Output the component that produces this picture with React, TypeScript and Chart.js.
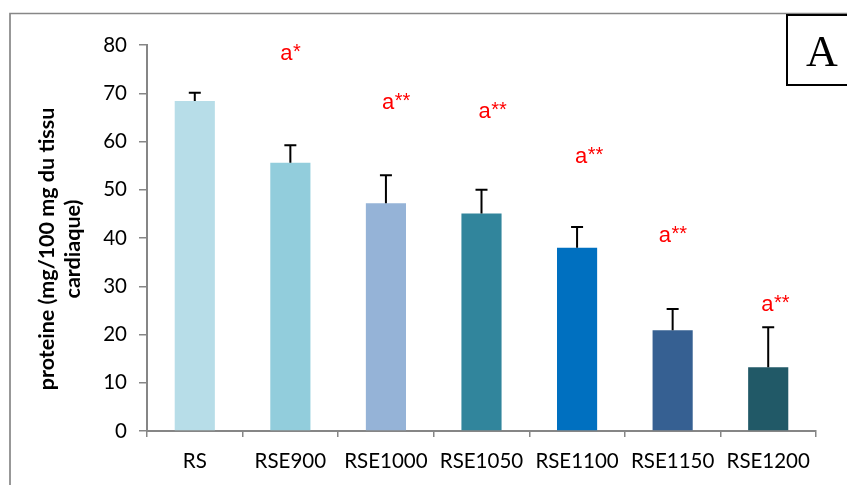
import React, { useEffect, useRef } from "react";
import { Chart, registerables } from "chart.js";

Chart.register(...registerables);

const categories = ["RS", "RSE900", "RSE1000", "RSE1050", "RSE1100", "RSE1150", "RSE1200"];
const proteinMeans = [68.4, 55.6, 47.2, 45.1, 38.0, 20.9, 13.2];
const proteinErrors = [1.7, 3.6, 5.8, 4.9, 4.3, 4.4, 8.3];
const significanceLetters = ["", "a", "a", "a", "a", "a", "a"];
const significanceStars = ["", "*", "**", "**", "**", "**", "**"];
const significanceValues = [null, 78.05, 68.0, 66.15, 56.7, 40.4, 26.1];
const barColors = ["#b7dde8", "#92cddc", "#95b3d7", "#31859c", "#0070c0", "#366092", "#215967"];
const yTitleLines = ["proteine (mg/100 mg du tissu", "cardiaque)"];
const panelLetter = "A";

// horizontal start of each significance label relative to its category centre (px)
const labelShift = [0, -10, -4, -3, -2, -14, -7];
const FONT = "Lato, 'Open Sans', 'DejaVu Sans', sans-serif";

const decorPlugin = {
  id: "decor",
  beforeDraw(chart: any) {
    const ctx = chart.ctx;
    ctx.save();
    ctx.fillStyle = "#ffffff";
    ctx.fillRect(0, 0, chart.width, chart.height);
    ctx.strokeStyle = "#878787";
    ctx.lineWidth = 1.7;
    ctx.beginPath();
    ctx.moveTo(10, 600);
    ctx.lineTo(10, 13.5);
    ctx.lineTo(900, 13.5);
    ctx.stroke();
    ctx.restore();
  },
  afterDraw(chart: any) {
    const ctx = chart.ctx;
    const x = chart.scales.x;
    const y = chart.scales.y;
    ctx.save();
    // error bars
    ctx.strokeStyle = "#000000";
    ctx.lineWidth = 2;
    proteinMeans.forEach((v, i) => {
      const cx = x.getPixelForValue(i);
      const y0 = y.getPixelForValue(v);
      const y1 = y.getPixelForValue(v + proteinErrors[i]);
      ctx.beginPath();
      ctx.moveTo(cx, y0);
      ctx.lineTo(cx, y1);
      ctx.moveTo(cx - 6, y1);
      ctx.lineTo(cx + 6, y1);
      ctx.stroke();
    });
    // significance labels
    ctx.fillStyle = "#ff0000";
    ctx.textAlign = "left";
    ctx.textBaseline = "alphabetic";
    significanceLetters.forEach((t, i) => {
      const sv = significanceValues[i];
      if (!t || sv == null) return;
      const sx = x.getPixelForValue(i) + labelShift[i];
      const base = y.getPixelForValue(sv) + 6;
      ctx.font = "22px 'Liberation Sans', Arial, sans-serif";
      ctx.fillText(t, sx, base);
      const w = ctx.measureText(t).width;
      ctx.font = "20px 'Liberation Sans', Arial, sans-serif";
      ctx.fillText(significanceStars[i], sx + w + 0.5, base - 2);
    });
    // y title
    ctx.fillStyle = "#000000";
    ctx.font = `bold 21.5px ${FONT}`;
    ctx.textAlign = "center";
    ctx.textBaseline = "middle";
    ctx.translate(0, 249);
    ctx.rotate(-Math.PI / 2);
    ctx.fillText(yTitleLines[0], 0, 47);
    ctx.fillText(yTitleLines[1], 0, 73);
    ctx.restore();
    // panel letter box
    ctx.save();
    ctx.strokeStyle = "#000000";
    ctx.lineWidth = 2;
    ctx.strokeRect(787, 15, 80, 70);
    ctx.fillStyle = "#000000";
    ctx.font = "44px 'Liberation Serif', 'DejaVu Serif', serif";
    ctx.textAlign = "center";
    ctx.textBaseline = "alphabetic";
    ctx.fillText(panelLetter, 822, 66);
    ctx.restore();
  },
};

export default function App() {
  const ref = useRef<HTMLCanvasElement | null>(null);
  useEffect(() => {
    document.body.style.margin = "0";
    const chart = new Chart(ref.current as HTMLCanvasElement, {
      type: "bar",
      data: {
        labels: categories,
        datasets: [
          {
            data: proteinMeans,
            backgroundColor: barColors,
            borderWidth: 0,
            barPercentage: 0.42,
            categoryPercentage: 1,
          },
        ],
      },
      options: {
        animation: false,
        responsive: false,
        maintainAspectRatio: false,
        layout: { padding: { left: 0, right: 31, top: 45, bottom: 0 } },
        plugins: { legend: { display: false }, tooltip: { enabled: false } },
        scales: {
          x: {
            offset: true,
            grid: {
              display: true,
              offset: true,
              drawOnChartArea: false,
              drawTicks: true,
              tickLength: 6,
              color: "#868686",
              lineWidth: 1.5,
            },
            border: { color: "#868686", width: 2 },
            ticks: {
              color: "#000000",
              font: { family: FONT, size: 20.5 },
              padding: 12,
              maxRotation: 0,
              autoSkip: false,
            },
            afterFit(scale: any) {
              scale.height = 54;
            },
          },
          y: {
            min: 0,
            max: 80,
            ticks: {
              stepSize: 10,
              color: "#000000",
              font: { family: FONT, size: 20.5 },
              padding: 12,
            },
            grid: {
              display: true,
              drawOnChartArea: false,
              drawTicks: true,
              tickLength: 8,
              color: "#868686",
              lineWidth: 1.5,
            },
            border: { color: "#868686", width: 2 },
            afterFit(scale: any) {
              scale.width = 147;
            },
          },
        },
      },
      plugins: [decorPlugin],
    } as any);
    return () => chart.destroy();
  }, []);
  return (
    <div style={{ position: "absolute", left: 0, top: 0, width: 847, height: 485 }}>
      <canvas ref={ref} width={847} height={485} style={{ display: "block" }} />
    </div>
  );
}
